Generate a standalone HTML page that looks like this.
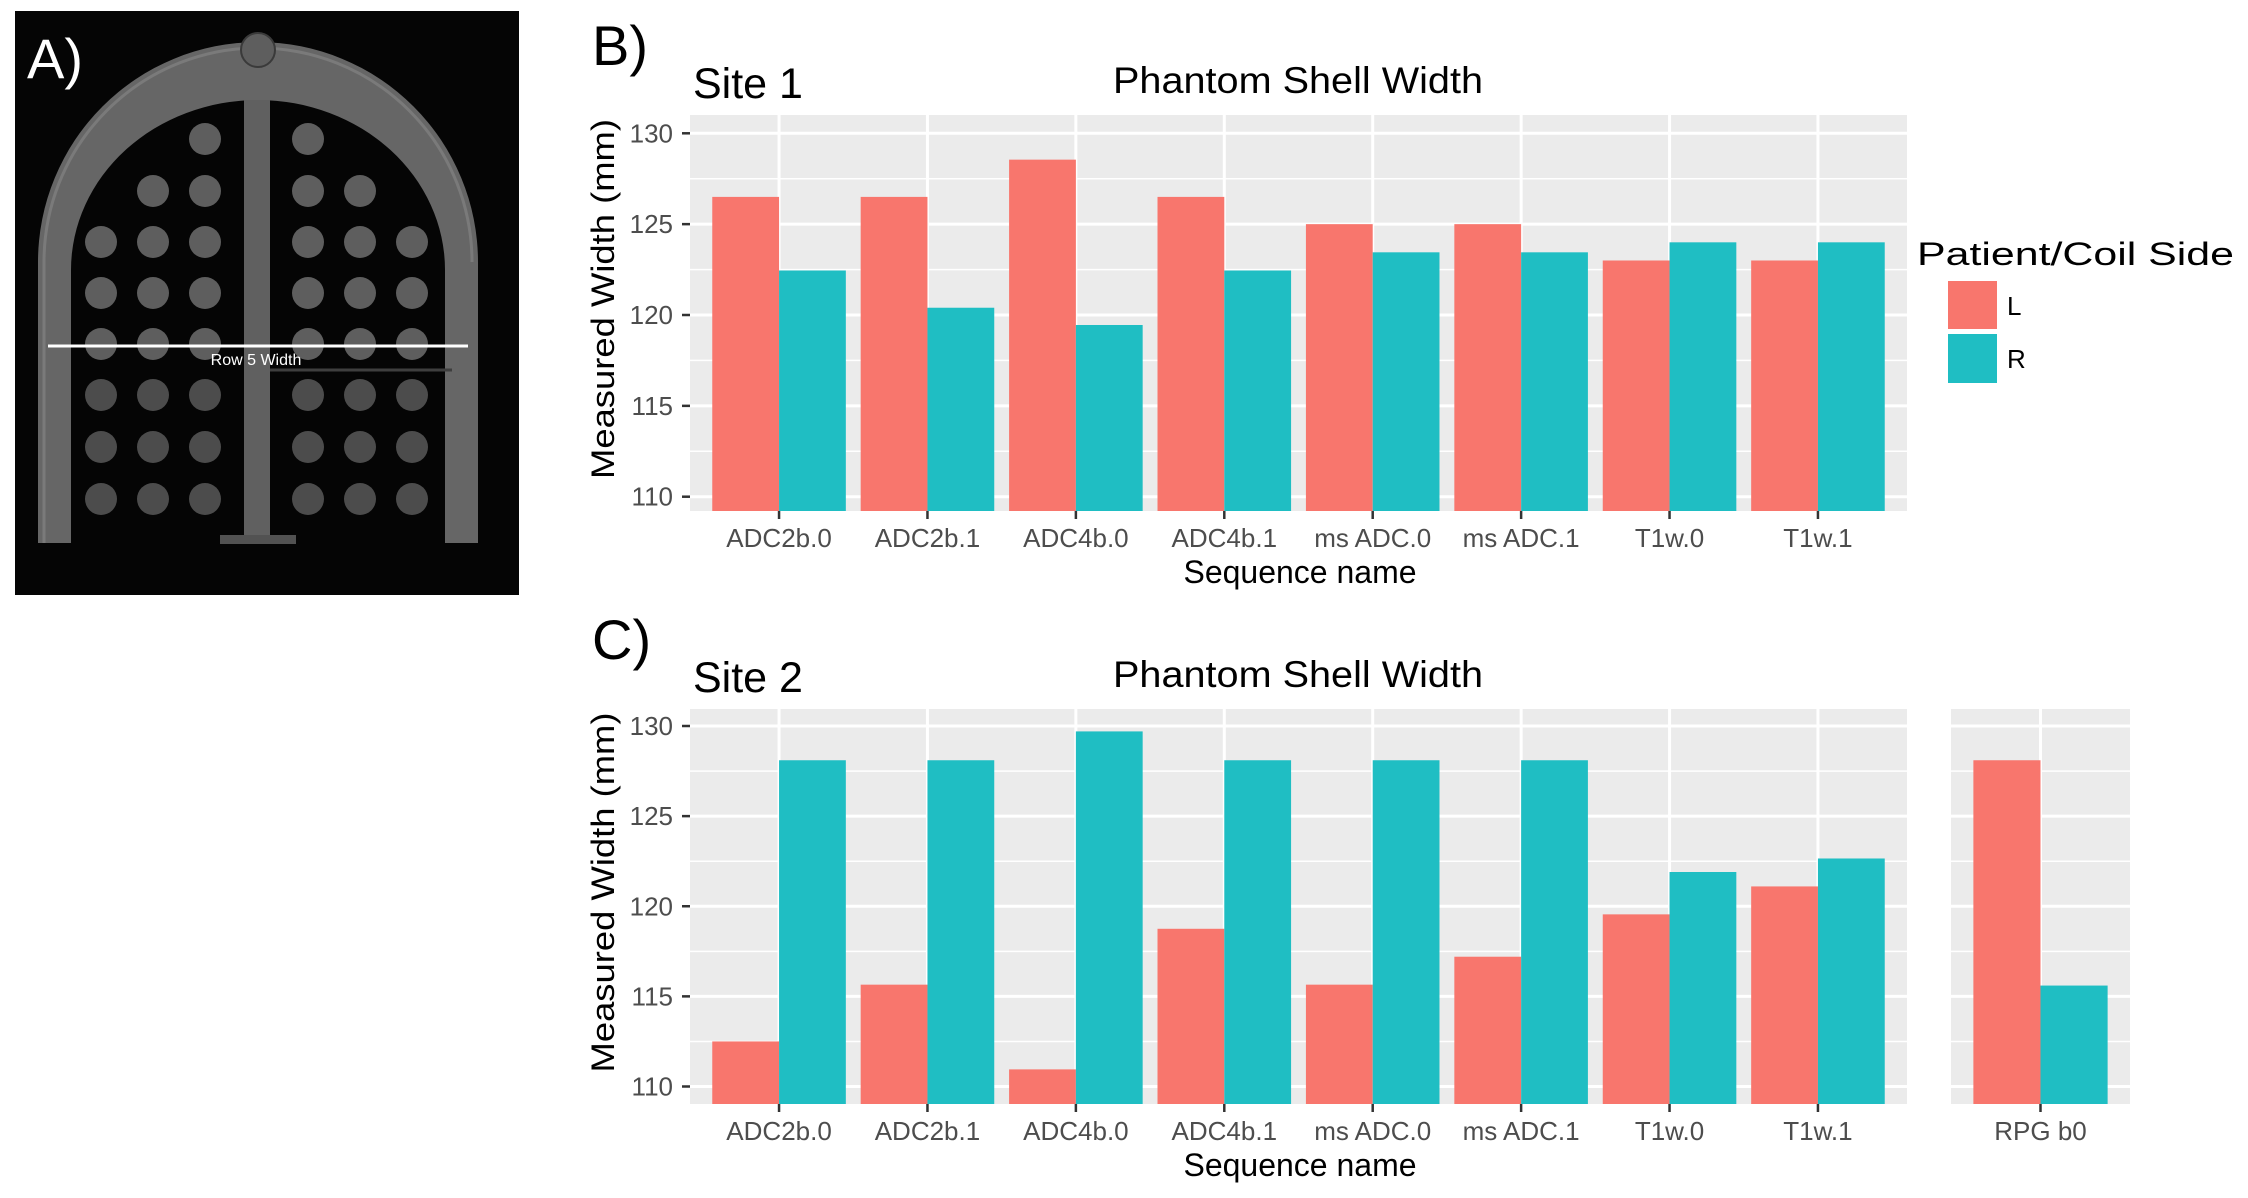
<!DOCTYPE html>
<html><head><meta charset="utf-8"><style>
html,body{margin:0;padding:0;background:#fff;}
svg{display:block;font-family:"Liberation Sans",Arial,sans-serif;}
</style></head><body>
<svg id="root" width="2248" height="1198" viewBox="0 0 2248 1198" xmlns="http://www.w3.org/2000/svg">
<g id="panelA">
  <rect x="15" y="11" width="504" height="584" fill="#050505"/>
  <path d="M38 543 L38 262 A220 220 0 0 1 478 262 L478 543 L445 543 L445 270 A187 170 0 0 0 71 270 L71 543 Z" fill="#666666"/>
  <path d="M44 543 L44 262 A214 214 0 0 1 472 262" fill="none" stroke="#7a7a7a" stroke-width="3"/>
  <circle cx="258" cy="50" r="17" fill="#5e5e5e" stroke="#3a3a3a" stroke-width="2"/>
  <rect x="244" y="100" width="26" height="440" fill="#606060"/>
  <rect x="220" y="535" width="76" height="9" fill="#525252"/>
  <line x1="270" y1="370" x2="452" y2="370" stroke="#3e3e3e" stroke-width="3"/>
  <g id="dots"></g>
  <line x1="48" y1="346" x2="468" y2="346" stroke="#ffffff" stroke-width="3"/>
  <text x="256" y="365" font-size="16" fill="#ffffff" text-anchor="middle">Row 5 Width</text>
  <text x="27" y="78" font-size="56" fill="#ffffff">A)</text>
</g>
<g id="chartB"></g>
<g id="chartC"></g>
<g id="legend">
  <text x="1917" y="265" font-size="32" textLength="317" lengthAdjust="spacingAndGlyphs" fill="#000">Patient/Coil Side</text>
  <rect x="1948" y="281" width="49" height="48" fill="#F8766D"/>
  <text x="2007" y="315" font-size="26" fill="#000">L</text>
  <rect x="1948" y="334" width="49" height="49" fill="#1FBEC3"/>
  <text x="2007" y="368" font-size="26" fill="#000">R</text>
</g>
</svg>
<script>
// ---- data ----
const categoriesB = ["ADC2b.0","ADC2b.1","ADC4b.0","ADC4b.1","ms ADC.0","ms ADC.1","T1w.0","T1w.1"];
const site1L = [126.5,126.5,128.55,126.5,125.0,125.0,123.0,123.0];
const site1R = [122.45,120.4,119.45,122.45,123.45,123.45,124.0,124.0];
const categoriesC = ["ADC2b.0","ADC2b.1","ADC4b.0","ADC4b.1","ms ADC.0","ms ADC.1","T1w.0","T1w.1"];
const site2L = [112.5,115.65,110.95,118.75,115.65,117.2,119.55,121.1];
const site2R = [128.1,128.1,129.7,128.1,128.1,128.1,121.9,122.65];
const categoriesRPG = ["RPG b0"];
const rpgL = [128.1];
const rpgR = [115.6];
const yTicks = [110,115,120,125,130];
const yMinor = [112.5,117.5,122.5,127.5];

const NS = "http://www.w3.org/2000/svg";
function mk(parent, tag, attrs, text){
  const e = document.createElementNS(NS, tag);
  for (const k in attrs) e.setAttribute(k, attrs[k]);
  if (text !== undefined) e.textContent = text;
  parent.appendChild(e);
  return e;
}

// phantom vials
(function(){
  const g = document.getElementById('dots');
  const cols = [101,153,205,308,360,412];
  const rows = [139,191,242,293,344,395,447,499];
  rows.forEach((y,ri)=>{
    cols.forEach((x,ci)=>{
      if (ri===0 && (ci!==2 && ci!==3)) return;
      if (ri===1 && (ci===0 || ci===5)) return;
      const c = mk(g,'circle',{cx:x,cy:y,r:16,fill: ri>4 ? '#4c4c4c' : '#5e5e5e'});
      
      
    });
  });
})();

function drawPanel(g, px0, px1, top, bottom, y130, y110, cats, L, R, withYAxis){
  const yScale = v => y110 + (v-110)*(y130-y110)/20;
  const n = cats.length;
  const step = (px1-px0)/(n+0.2);
  const xCenter = i => px0 + step*0.6 + i*step;
  const bw = step*0.45;
  const bg = mk(g,'rect',{x:px0,y:top,width:px1-px0,height:bottom-top,fill:'#EBEBEB'});
  
  
  yMinor.forEach(v=>{
    const l = mk(g,'line',{x1:px0,x2:px1,y1:yScale(v),y2:yScale(v),stroke:'#fff','stroke-width':1.5});
    
    
  });
  yTicks.forEach(v=>{
    const l = mk(g,'line',{x1:px0,x2:px1,y1:yScale(v),y2:yScale(v),stroke:'#fff','stroke-width':3});
    
    
  });
  cats.forEach((c,i)=>{
    const l = mk(g,'line',{x1:xCenter(i),x2:xCenter(i),y1:top,y2:bottom,stroke:'#fff','stroke-width':3});
    
    
  });
  cats.forEach((c,i)=>{
    const xc = xCenter(i);
    const bl = mk(g,'rect',{x:xc-bw,y:yScale(L[i]),width:bw,height:bottom-yScale(L[i]),fill:'#F8766D'});
    
    
    const br = mk(g,'rect',{x:xc,y:yScale(R[i]),width:bw,height:bottom-yScale(R[i]),fill:'#1FBEC3'});
    
    
    const tk = mk(g,'line',{x1:xc,x2:xc,y1:bottom,y2:bottom+8,stroke:'#333','stroke-width':2.5});
    
    
    const lb = mk(g,'text',{x:xc,y:bottom+36,'font-size':26,fill:'#4D4D4D','text-anchor':'middle'},c);
    
    
  });
  if (withYAxis){
    yTicks.forEach(v=>{
      const tk = mk(g,'line',{x1:px0-8,x2:px0,y1:yScale(v),y2:yScale(v),stroke:'#333','stroke-width':2.5});
      
      
      const lb = mk(g,'text',{x:px0-17,y:yScale(v)+9,'font-size':26,fill:'#4D4D4D','text-anchor':'end'},String(v));
      
      
    });
  }
}

function drawChart(gid, top, bottom, y130, y110, cats, L, R, letter, site){
  const g = document.getElementById(gid);
  drawPanel(g, 690, 1907, top, bottom, y130, y110, cats, L, R, true);
  const t1 = mk(g,'text',{x:592,y:top-50,'font-size':56,fill:'#000'},letter);
  
  
  const t2 = mk(g,'text',{x:693,y:top-17,'font-size':43,fill:'#000'},site);
  
  
  const t3 = mk(g,'text',{x:1113,y:top-22,'font-size':37,fill:'#000',textLength:370,lengthAdjust:'spacingAndGlyphs'},'Phantom Shell Width');
  
  
  const t4 = mk(g,'text',{x:1300,y:bottom+72,'font-size':32,fill:'#000','text-anchor':'middle'},'Sequence name');
  
  
  const cy = (top+bottom)/2 - 14;
  const t5 = mk(g,'text',{x:614,y:cy,'font-size':32,fill:'#000','text-anchor':'middle',transform:`rotate(-90 614 ${cy})`,textLength:360,lengthAdjust:'spacingAndGlyphs'},'Measured Width (mm)');
  
  
  return g;
}

drawChart('chartB', 115, 511, 133.3, 496.7, categoriesB, site1L, site1R, 'B)', 'Site 1');
const gC = drawChart('chartC', 709, 1104, 726, 1086.5, categoriesC, site2L, site2R, 'C)', 'Site 2');
drawPanel(gC, 1951, 2130, 709, 1104, 726, 1086.5, categoriesRPG, rpgL, rpgR, false);
</script>
</body></html>
